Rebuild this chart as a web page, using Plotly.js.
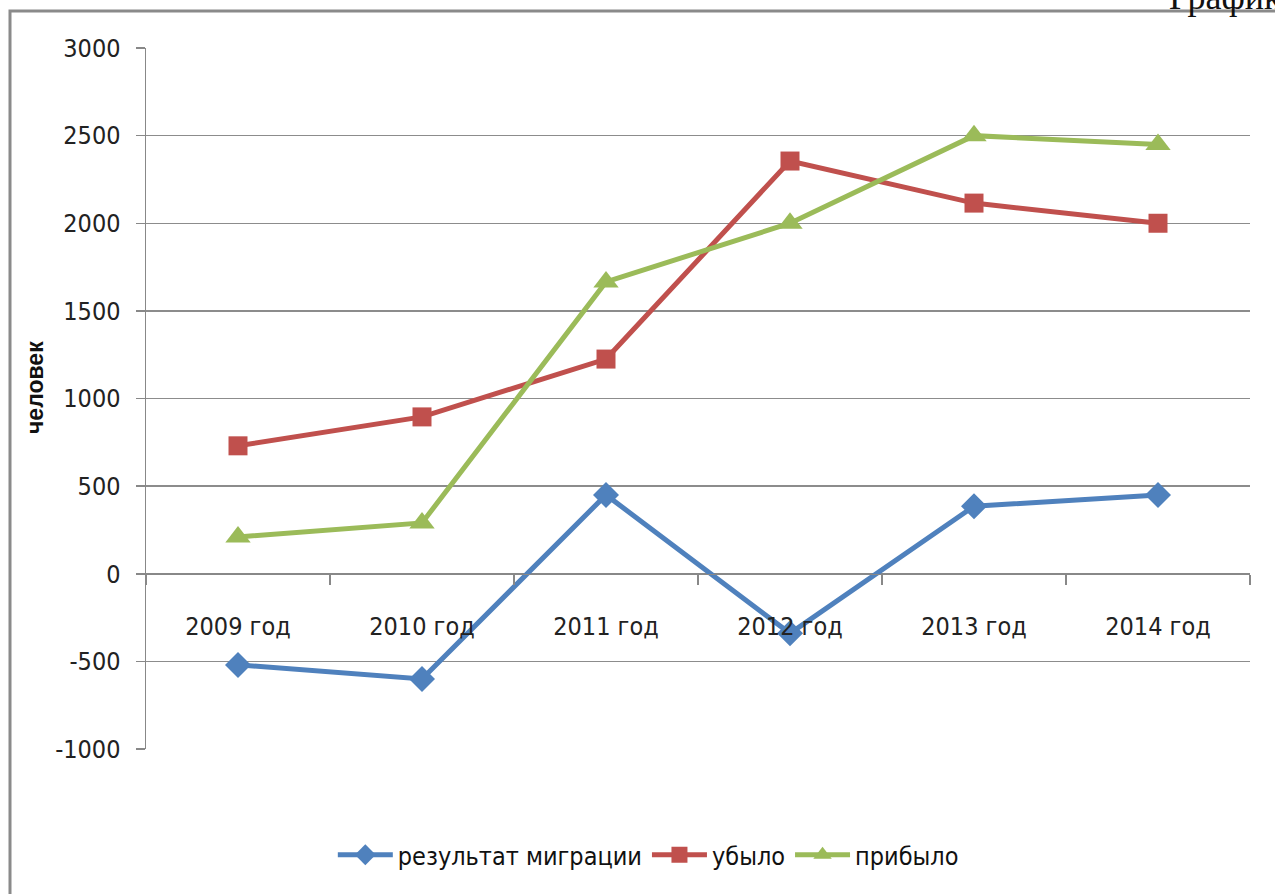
<!DOCTYPE html>
<html>
<head>
<meta charset="utf-8">
<script src="https://cdn.plot.ly/plotly-3.0.1.min.js"></script>
<style>html,body{margin:0;padding:0;background:#fff;}#chart{width:1275px;height:894px;}</style>
</head>
<body>
<div id="chart"></div>
<script>
var categories = ['2009 год', '2010 год', '2011 год', '2012 год', '2013 год', '2014 год'];
var migrationResult = [-520, -600, 450, -340, 385, 450];
var departed = [730, 895, 1225, 2355, 2115, 2000];
var arrived = [210, 290, 1665, 2000, 2500, 2450];
var seriesNames = ['результат миграции', 'убыло', 'прибыло'];
var yTicks = [-1000, -500, 0, 500, 1000, 1500, 2000, 2500, 3000];
var yTickText = ['-1000', '-500', '0', '500', '1000', '1500', '2000', '2500', '3000'];

var FONT = '"Liberation Sans Narrow", "DejaVu Sans Condensed", "Open Sans", sans-serif';
var W = 1275, H = 894, L = 146, R = 25, T = 48, B = 145;
var pw = W - L - R, ph = H - T - B;
function px(x) { return (x - L) / pw; }
function py(y) { return (H - B - y) / ph; }

var traces = [
  {x: categories, y: migrationResult, name: seriesNames[0], type: 'scatter', mode: 'lines+markers',
   line: {color: '#4F81BD', width: 5}, marker: {symbol: 'diamond', size: 20, color: '#4F81BD'}},
  {x: categories, y: departed, name: seriesNames[1], type: 'scatter', mode: 'lines+markers',
   line: {color: '#C0504D', width: 5}, marker: {symbol: 'square', size: 19, color: '#C0504D'}},
  {x: categories, y: arrived, name: seriesNames[2], type: 'scatter', mode: 'lines+markers',
   line: {color: '#9BBB59', width: 5}, marker: {symbol: 'triangle-up', size: 22, color: '#9BBB59'}}
];

var layout = {
  width: W, height: H,
  margin: {l: L, r: R, t: T, b: B},
  paper_bgcolor: '#ffffff', plot_bgcolor: '#ffffff',
  font: {family: FONT, size: 24, color: '#222'},
  showlegend: true,
  legend: {orientation: 'h', x: 0.455, xanchor: 'center', y: py(855), yanchor: 'middle',
           font: {family: FONT, size: 25, color: '#111'}, itemwidth: 55, tracegroupgap: 0},
  xaxis: {
    type: 'category', anchor: 'free', position: 0.25,
    showline: true, linecolor: '#888', linewidth: 1.5,
    ticks: 'outside', ticklen: 10, tickcolor: '#888', tickwidth: 1.5,
    tickson: 'boundaries', showgrid: false, zeroline: false,
    ticklabelstandoff: 30,
    tickfont: {family: FONT, size: 25, color: '#222'},
    range: [-0.5, 5.5]
  },
  yaxis: {
    range: [-1000, 3000], tickvals: yTicks, ticktext: yTickText,
    showline: true, linecolor: '#888', linewidth: 1.5,
    ticks: 'outside', ticklen: 9, tickcolor: '#888', tickwidth: 1.5,
    ticklabelstandoff: 10,
    showgrid: true, gridcolor: '#8c8c8c', gridwidth: 1.5,
    zeroline: true, zerolinecolor: '#888', zerolinewidth: 1.5,
    tickfont: {family: FONT, size: 25, color: '#222'}
  },
  annotations: [
    {text: '<b>человек</b>', xref: 'paper', yref: 'paper', x: px(35), y: py(388),
     textangle: -90, showarrow: false, font: {family: '"Liberation Sans", Arial, sans-serif', size: 23, color: '#111'},
     xanchor: 'center', yanchor: 'middle'},
    {text: 'График', xref: 'paper', yref: 'paper', x: px(1167), y: py(19), xanchor: 'left', yanchor: 'bottom',
     showarrow: false, font: {family: '"Liberation Serif", "DejaVu Serif", serif', size: 36, color: '#111'}}
  ],
  shapes: [
    {type: 'rect', xref: 'paper', yref: 'paper', x0: px(10), x1: px(1300), y0: py(930), y1: py(11),
     line: {color: '#8a8a8a', width: 3}, fillcolor: 'rgba(0,0,0,0)', layer: 'below'}
  ]
};

Plotly.newPlot('chart', traces, layout, {staticPlot: true, displayModeBar: false});
</script>
</body>
</html>
